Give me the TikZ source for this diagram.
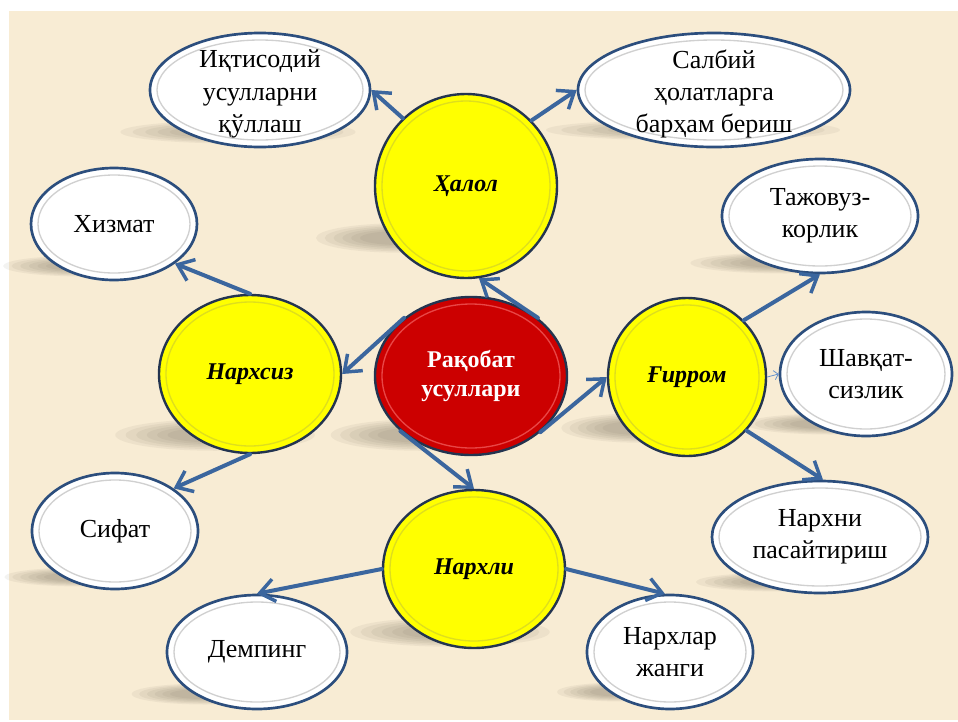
\documentclass[tikz,border=0pt]{standalone}
\usepackage{fontspec}
\setmainfont{Liberation Serif}
\usetikzlibrary{arrows.meta,shapes.geometric}
\definecolor{bg}{RGB}{248,236,212}
\definecolor{arrowblue}{RGB}{59,102,158}
\definecolor{edgeblue}{RGB}{44,78,125}
\definecolor{darkedge}{RGB}{35,52,80}
\definecolor{ringgray}{RGB}{208,208,208}
\definecolor{yel}{RGB}{255,255,0}
\definecolor{yelring}{RGB}{222,222,30}
\definecolor{redfill}{RGB}{204,0,0}
\definecolor{redring}{RGB}{232,70,70}
\definecolor{shadowc}{RGB}{105,95,80}
\definecolor{thinblue}{RGB}{100,145,205}

\tikzset{
  whitebub/.style={ellipse, draw=edgeblue, line width=2pt, fill=white, inner sep=0pt},
  yellowbub/.style={ellipse, draw=darkedge, line width=1.8pt, fill=yel, inner sep=0pt},
  redbub/.style={ellipse, draw=darkedge, line width=1.8pt, fill=redfill, inner sep=0pt},
  plaintext/.style={align=center, font=\fontsize{19.5}{24.2}\selectfont, text=black, inner sep=0pt},
  boldtext/.style={align=center, font=\fontsize{18}{22}\selectfont\bfseries\itshape, text=black, inner sep=0pt},
  redtext/.style={align=center, font=\fontsize{18}{22}\selectfont\bfseries, text=white, inner sep=0pt},
  conn/.style={draw=arrowblue, line width=3pt, line cap=round,
    -{Straight Barb[length=11pt,width=17pt,line width=2.6pt]}},
  thinconn/.style={draw=thinblue, line width=0.6pt,
    -{Straight Barb[length=3pt,width=7pt,line width=0.6pt]}},
}

% name, x, y, rx, ry, bubble style, ring colour, text style, text
\newcommand\mkbubble[9]{%
  \node[#6, minimum width=#4*1.5pt, minimum height=#5*1.5pt] (#1) at (#2,#3) {};
  \draw[#7, line width=1pt] (#1.center) ellipse [x radius={(#4-7)*0.75pt}, y radius={(#5-7)*0.75pt}];
  \node[#8] (#1-t) at (#1.center) {#9};
}
% x, y, rx, ry
\newcommand\mkshadow[4]{%
  \foreach \k in {0,...,5}{%
    \fill[shadowc, opacity=0.075] (#1,#2) ellipse [x radius={#3*(1.05-0.11*\k)*0.75pt}, y radius={#4*(1.05-0.11*\k)*0.75pt}];
  }%
}

\begin{document}
\begin{tikzpicture}[x=0.75pt, y=-0.75pt]
\useasboundingbox (0,0) rectangle (958,722);
\fill[white] (0,0) rectangle (958,722);
\fill[bg] (9,11) rectangle (958,720);

% shadows
\mkshadow{238}{132}{112}{11}
\mkshadow{693}{130}{140}{10}
\mkshadow{785}{263}{90}{10}
\mkshadow{85}{266}{78}{10}
\mkshadow{400}{238}{80}{14}
\mkshadow{215}{435}{95}{15}
\mkshadow{420}{435}{85}{15}
\mkshadow{640}{428}{75}{14}
\mkshadow{830}{424}{80}{10}
\mkshadow{780}{582}{80}{9}
\mkshadow{450}{632}{95}{14}
\mkshadow{205}{694}{70}{10}
\mkshadow{620}{692}{60}{9}
\mkshadow{80}{577}{72}{9}

% white bubbles
\mkbubble{iqt}{260}{90}{110}{57}{whitebub}{ringgray}{plaintext, yshift=-3pt}{Иқтисодий\\усулларни\\қўллаш}
\mkbubble{salb}{714}{90}{136}{57}{whitebub}{ringgray}{plaintext, yshift=-3pt}{Салбий\\ҳолатларга\\барҳам бериш}
\mkbubble{taj}{820}{216}{98}{57}{whitebub}{ringgray}{plaintext}{Тажовуз-\\корлик}
\mkbubble{xiz}{114}{224}{83}{56}{whitebub}{ringgray}{plaintext}{Хизмат}
\mkbubble{shav}{866}{374}{86}{62}{whitebub}{ringgray}{plaintext}{Шавқат-\\сизлик}
\mkbubble{pas}{820}{537}{108}{56}{whitebub}{ringgray}{plaintext}{Нархни\\пасайтириш}
\mkbubble{sif}{115}{531}{83}{58}{whitebub}{ringgray}{plaintext}{Сифат}
\mkbubble{demp}{257}{652}{90}{57}{whitebub}{ringgray}{plaintext}{Демпинг}
\mkbubble{jang}{670}{652}{83}{57}{whitebub}{ringgray}{plaintext}{Нархлар\\жанги}

% yellow bubbles
\mkbubble{halol}{466}{186}{91}{92}{yellowbub}{yelring}{boldtext}{Ҳалол}
\mkbubble{narhsiz}{250}{374}{91}{79}{yellowbub}{yelring}{boldtext}{Нархсиз}
\mkbubble{narhli}{474}{569}{91}{79}{yellowbub}{yelring}{boldtext}{Нархли}
\mkbubble{girrom}{687}{377}{79}{79}{yellowbub}{yelring}{boldtext}{Ғирром}

% red centre
\mkbubble{rak}{471}{376}{96}{79}{redbub}{redring}{redtext}{Рақобат\\усуллари}

% connectors
\draw[conn] (rak.41) -- (halol.-82);
\draw[conn] (rak.139.5) -- (narhsiz.0);
\draw[conn] (rak.218.5) -- (narhli.90);
\draw[conn] (rak.-39.3) -- (girrom.180);
\draw[conn] (halol.133.7) -- (iqt.0);
\draw[conn] (halol.45) -- (salb.180);
\draw[conn] (narhsiz.90) -- (xiz.-33.9);
\draw[conn] (narhsiz.270) -- (sif.36.4);
\draw[conn] (girrom.45.5) -- (taj.270);
\draw[thinconn] (girrom.0) -- (shav.180);
\draw[conn] (girrom.-42.4) -- (pas.87);
\draw[conn] (narhli.180) -- (demp.90);
\draw[conn] (narhli.0) -- (jang.95);
\end{tikzpicture}
\end{document}
